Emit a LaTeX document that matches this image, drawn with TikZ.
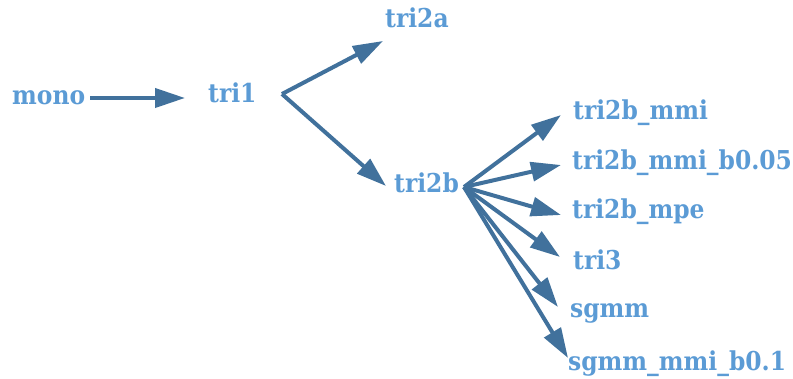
\documentclass[tikz,border=0pt]{standalone}
\usepackage{fontspec}
\newfontfamily\lblfont{DejaVu Serif Condensed}
\usetikzlibrary{arrows.meta}
\definecolor{labelblue}{HTML}{5B9BD5}
\definecolor{edgeblue}{HTML}{41719C}
\begin{document}
\begin{tikzpicture}[x=1pt,y=-1pt,
  lbl/.style={inner sep=0pt,anchor=base west,text=labelblue,
    font=\lblfont\bfseries\fontsize{26}{26}\selectfont},
  edge/.style={draw=edgeblue,line width=4pt,
    -{Triangle[length=30pt,width=19pt]}}]
\useasboundingbox (0,0) rectangle (793,379);

% model labels
\node[lbl] (mono)  at (12,105)  {mono};
\node[lbl] (tri1)  at (208,103) {tri1};
\node[lbl] (tri2a) at (385,28)  {tri2a};
\node[lbl] (tri2b) at (394,193) {tri2b};
\node[lbl] (mmi)   at (573,120) {tri2b\_mmi};
\node[lbl] (mmib)  at (572,170) {tri2b\_mmi\_b0.05};
\node[lbl] (mpe)   at (572,219) {tri2b\_mpe};
\node[lbl] (tri3)  at (573,270) {tri3};
\node[lbl] (sgmm)  at (570,318) {sgmm};
\node[lbl] (sgmmb) at (568,371) {sgmm\_mmi\_b0.1};

% mono -> tri1
\draw[edge] ([xshift=78pt,yshift=7pt]mono.base west)
         -- ([xshift=-23pt,yshift=5pt]tri1.base west);

% tri1 -> tri2a / tri2b (shared start point)
\draw[edge] ([xshift=74pt,yshift=9pt]tri1.base west)
         -- ([xshift=-2pt,yshift=-13pt]tri2a.base west);
\draw[edge] ([xshift=74pt,yshift=9pt]tri1.base west)
         -- ([xshift=-8pt,yshift=7pt]tri2b.base west);

% tri2b fan-out
\draw[edge] ([xshift=70pt,yshift=6pt]tri2b.base west)
         -- ([xshift=-12pt,yshift=5pt]mmi.base west);
\draw[edge] ([xshift=70pt,yshift=6pt]tri2b.base west)
         -- ([xshift=-11pt,yshift=5pt]mmib.base west);
\draw[edge] ([xshift=70pt,yshift=6pt]tri2b.base west)
         -- ([xshift=-11pt,yshift=4pt]mpe.base west);
\draw[edge] ([xshift=70pt,yshift=6pt]tri2b.base west)
         -- ([xshift=-13pt,yshift=13pt]tri3.base west);
\draw[edge] ([xshift=70pt,yshift=6pt]tri2b.base west)
         -- ([xshift=-12pt,yshift=11pt]sgmm.base west);
\draw[edge] ([xshift=70pt,yshift=6pt]tri2b.base west)
         -- ([xshift=0pt,yshift=13pt]sgmmb.base west);
\end{tikzpicture}
\end{document}
